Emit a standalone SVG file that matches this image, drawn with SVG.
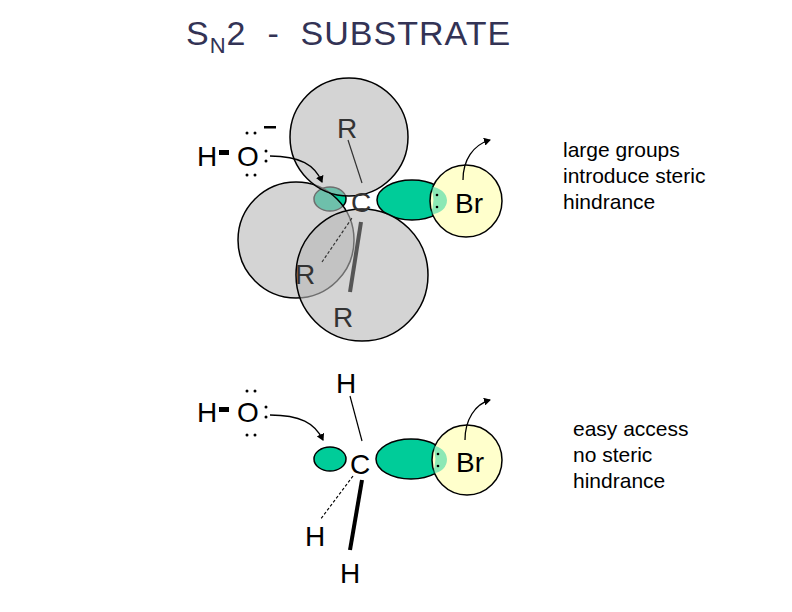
<svg xmlns="http://www.w3.org/2000/svg" width="792" height="612" viewBox="0 0 792 612">
<style>
text{font-family:"Liberation Sans",Arial,sans-serif;fill:#000}
.big{font-size:28px}
.note{font-size:21px}
.lobe{fill:#00cc99;stroke:#000;stroke-width:1.5}
.sph{fill:#b8b8b8;fill-opacity:0.6;stroke:#000;stroke-width:1.5}
.br{fill:#ffffcc;stroke:#000;stroke-width:1.5}
.ov{fill:#00cc99;fill-opacity:0.45}
.arr{fill:none;stroke:#000;stroke-width:1.3;marker-end:url(#ah)}
</style>
<defs>
<marker id="ah" markerWidth="8" markerHeight="8" refX="6" refY="4" orient="auto" markerUnits="userSpaceOnUse"><path d="M0,0 L7,4 L0,8 Z" fill="#000"/></marker>
</defs>
<text x="186" y="45" font-size="34" letter-spacing="1" xml:space="preserve" style="fill:#333355">S<tspan font-size="22" dy="8">N</tspan><tspan dy="-8">2  -  SUBSTRATE</tspan></text>

<g id="top">
<g id="top-orbitals">
<ellipse class="lobe" cx="330" cy="199" rx="16" ry="12"/>
<ellipse class="lobe" cx="412" cy="200" rx="35" ry="20"/>
<circle class="br" cx="466" cy="201" r="36"/>
<path class="ov" d="M430,186 Q437,200 430,215 Q447,212 447,200 Q446,189 430,186Z"/>
</g>
<g id="top-spheres">
<circle class="sph" cx="296" cy="240" r="58"/>
<circle class="sph" cx="349" cy="137" r="59"/>
<circle class="sph" cx="362" cy="275" r="66"/>
</g>
<text class="big" x="337" y="138" style="fill:#333">R</text>
<text class="big" x="295" y="284" style="fill:#333">R</text>
<text class="big" x="333" y="327" style="fill:#333">R</text>
<text class="big" x="351" y="212" style="fill:#333">C</text>
<line x1="348" y1="140" x2="362" y2="183" stroke="#333" stroke-width="1.2"/>
<line x1="322" y1="262" x2="352" y2="218" stroke="#333" stroke-width="1.2" stroke-dasharray="3,2"/>
<line x1="361" y1="222" x2="350" y2="292" stroke="#555" stroke-width="4"/>
<text class="big" x="455" y="213">Br</text>
<circle cx="437" cy="195" r="1.3"/><circle cx="437" cy="207" r="1.3"/>
<text class="big" x="197" y="166">H</text>
<rect x="219" y="150" width="10" height="5"/>
<text class="big" x="237" y="166">O</text>
<circle cx="266" cy="151" r="1.5"/><circle cx="266" cy="161" r="1.5"/>
<circle cx="247" cy="133" r="1.5"/><circle cx="255" cy="133" r="1.5"/>
<circle cx="247" cy="175" r="1.5"/><circle cx="255" cy="175" r="1.5"/>
<rect x="264" y="126" width="12" height="2.5"/>
<path class="arr" d="M270,156 C300,156 315,165 322,182"/>
<path class="arr" d="M463,180 C463,160 473,145 490,140"/>
<text class="note" x="563" y="157">large groups</text>
<text class="note" x="563" y="183">introduce steric</text>
<text class="note" x="563" y="209">hindrance</text>
</g>

<g id="bottom">
<ellipse class="lobe" cx="330" cy="459" rx="16" ry="12"/>
<ellipse class="lobe" cx="411" cy="459" rx="35" ry="20"/>
<circle class="br" cx="467" cy="460" r="35"/>
<path class="ov" d="M432,445 Q439,459 432,474 Q447,471 447,459 Q446,448 432,445Z"/>
<text class="big" x="350" y="474">C</text>
<text class="big" x="456" y="472">Br</text>
<circle cx="438" cy="454" r="1.3"/><circle cx="438" cy="466" r="1.3"/>
<text class="big" x="336" y="393">H</text>
<line x1="350" y1="396" x2="362" y2="441" stroke="#000" stroke-width="1.2"/>
<line x1="353" y1="476" x2="320" y2="520" stroke="#000" stroke-width="1.2" stroke-dasharray="3,2"/>
<line x1="362" y1="480" x2="350" y2="550" stroke="#000" stroke-width="4"/>
<text class="big" x="305" y="546">H</text>
<text class="big" x="340" y="583">H</text>
<text class="big" x="197" y="422">H</text>
<rect x="219" y="407" width="10" height="5"/>
<text class="big" x="237" y="422">O</text>
<circle cx="266" cy="407" r="1.5"/><circle cx="266" cy="417" r="1.5"/>
<circle cx="247" cy="391" r="1.5"/><circle cx="255" cy="391" r="1.5"/>
<circle cx="247" cy="435" r="1.5"/><circle cx="255" cy="435" r="1.5"/>
<path class="arr" d="M270,415 C300,415 315,423 323,440"/>
<path class="arr" d="M465,440 C465,420 475,404 490,400"/>
<text class="note" x="573" y="436">easy access</text>
<text class="note" x="573" y="462">no steric</text>
<text class="note" x="573" y="488">hindrance</text>
</g>
</svg>
